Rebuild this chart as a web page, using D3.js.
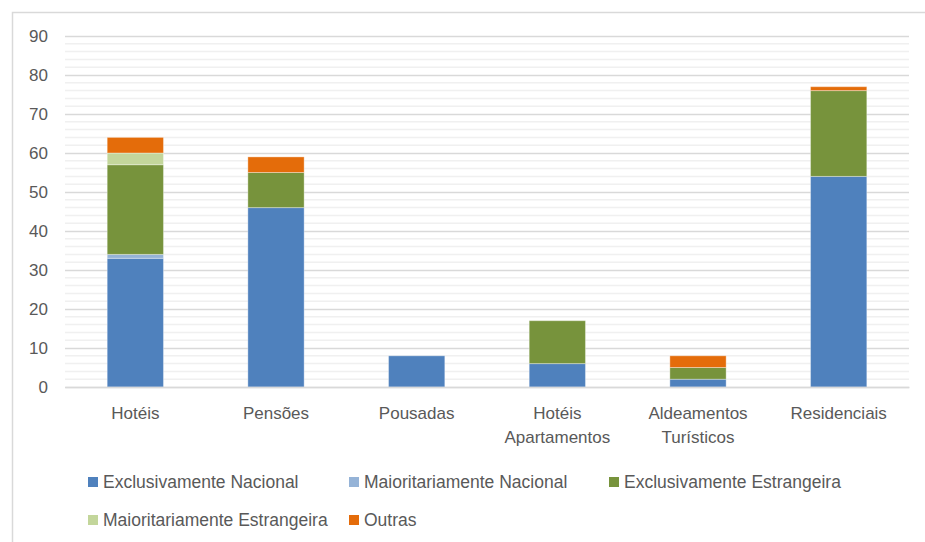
<!DOCTYPE html>
<html>
<head>
<meta charset="UTF-8">
<script src="https://cdn.jsdelivr.net/npm/d3@7"></script>
<style>
  body { margin: 0; background: #fff; }
  svg { display: block; font-family: "Liberation Sans", Arial, sans-serif; }
  .tick text { fill: #595959; }
</style>
</head>
<body>
<div id="chart"></div>
<script>
// categorias (eixo X)
const categories = ["Hotéis", "Pensões", "Pousadas", "Hotéis Apartamentos", "Aldeamentos Turísticos", "Residenciais"];
const categoryLines = [["Hotéis"], ["Pensões"], ["Pousadas"], ["Hotéis", "Apartamentos"], ["Aldeamentos", "Turísticos"], ["Residenciais"]];

// séries
const seriesNames = ["Exclusivamente Nacional", "Maioritariamente Nacional", "Exclusivamente Estrangeira", "Maioritariamente Estrangeira", "Outras"];
const exclusivamenteNacional     = [33, 46, 8, 6, 2, 54];
const maioritariamenteNacional   = [1, 0, 0, 0, 0, 0];
const exclusivamenteEstrangeira  = [23, 9, 0, 11, 3, 22];
const maioritariamenteEstrangeira = [3, 0, 0, 0, 0, 0];
const outras                     = [4, 4, 0, 0, 3, 1];
const colors = ["#4f81bd", "#95b3d7", "#77933c", "#c3d69b", "#e46c0a"];

const yTicks = [0, 10, 20, 30, 40, 50, 60, 70, 80, 90];

const W = 925, H = 542;
const margin = {top: 36, right: 16, bottom: 155, left: 65};
const width = W - margin.left - margin.right,
      height = H - margin.top - margin.bottom;

const svg = d3.select("#chart").append("svg")
    .attr("width", W)
    .attr("height", H);

// bordure du graphique (seulement haut et gauche visibles)
svg.append("path")
    .attr("d", "M12.5," + H + "V12.5H" + W)
    .attr("fill", "none")
    .attr("stroke", "#d9d9d9")
    .attr("stroke-width", 1.5);

const g = svg.append("g")
    .attr("transform", "translate(" + margin.left + "," + margin.top + ")");

const x = d3.scaleBand()
    .domain(categories)
    .range([0, width])
    .paddingInner(0.6)
    .paddingOuter(0.3);

const y = d3.scaleLinear()
    .domain([0, 90])
    .range([height, 0]);

// lignes de grille mineures (tous les 2)
g.append("g")
    .selectAll("line")
    .data(d3.range(0, 91, 2).filter(v => v % 10 !== 0))
    .enter().append("line")
    .attr("x1", 0).attr("x2", width)
    .attr("y1", d => y(d)).attr("y2", d => y(d))
    .attr("stroke", "#f0f0f0")
    .attr("stroke-width", 1.5);

// axe Y + grille majeure
g.append("g")
    .call(d3.axisLeft(y).tickValues(yTicks).tickSize(-width).tickPadding(17))
    .call(a => a.select(".domain").remove())
    .call(a => a.selectAll(".tick line").attr("stroke", "#d9d9d9").attr("stroke-width", 1.5))
    .call(a => a.selectAll(".tick text").style("font-size", "17px"));

// données empilées
const table = categories.map((c, i) => ({
    cat: c,
    "Exclusivamente Nacional": exclusivamenteNacional[i],
    "Maioritariamente Nacional": maioritariamenteNacional[i],
    "Exclusivamente Estrangeira": exclusivamenteEstrangeira[i],
    "Maioritariamente Estrangeira": maioritariamenteEstrangeira[i],
    "Outras": outras[i]
}));
const stacked = d3.stack().keys(seriesNames)(table);

g.selectAll(".serie")
    .data(stacked)
    .enter().append("g")
    .attr("class", "serie")
    .attr("fill", (d, i) => colors[i])
    .selectAll("rect")
    .data(d => d.filter(p => p[1] - p[0] > 0))
    .enter().append("rect")
    .attr("x", d => x(d.data.cat))
    .attr("width", x.bandwidth())
    .attr("y", d => y(d[1]))
    .attr("height", d => y(d[0]) - y(d[1]))
    .attr("stroke", "rgba(255,255,255,0.35)")
    .attr("stroke-width", 1);

// axe X
const xAxis = g.append("g")
    .attr("transform", "translate(0," + height + ")")
    .call(d3.axisBottom(x).tickSize(0).tickFormat(""));
xAxis.select(".domain").attr("stroke", "#d9d9d9").attr("stroke-width", 1.5);
xAxis.selectAll(".tick").each(function(d, i) {
    const t = d3.select(this).append("text")
        .attr("fill", "#595959")
        .style("font-size", "17px")
        .attr("text-anchor", "middle");
    categoryLines[i].forEach((line, k) => {
        t.append("tspan").attr("x", 0).attr("y", 32 + k * 24).text(line);
    });
});

// légende
const legendPos = [[88, 482], [349, 482], [609, 482], [88, 520], [349, 520]];
const legend = svg.selectAll(".legend")
    .data(seriesNames)
    .enter().append("g")
    .attr("class", "legend")
    .attr("transform", (d, i) => "translate(" + legendPos[i][0] + "," + legendPos[i][1] + ")");
legend.append("rect")
    .attr("x", 0).attr("y", -5)
    .attr("width", 10).attr("height", 10)
    .attr("fill", (d, i) => colors[i]);
legend.append("text")
    .attr("x", 15).attr("y", 6)
    .attr("fill", "#595959")
    .style("font-size", "17.5px")
    .text(d => d);
</script>
</body>
</html>
